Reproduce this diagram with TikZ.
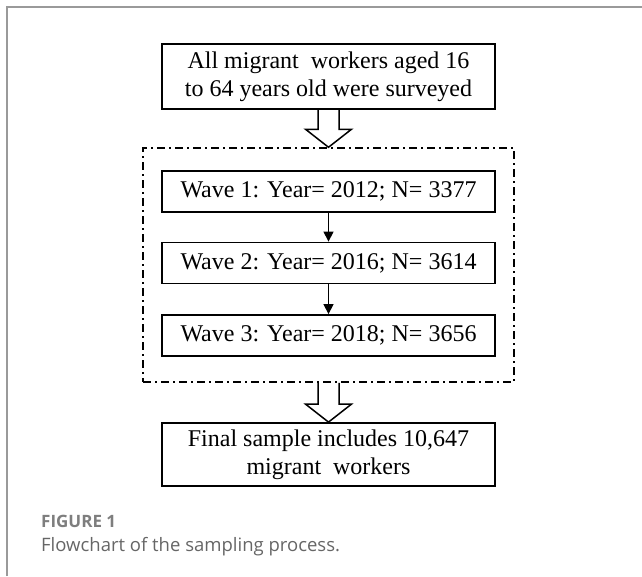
\documentclass[tikz,border=0pt]{standalone}
\usepackage{fontspec}
\setmainfont{Liberation Serif}
\newfontfamily\legendefont{Open Sans}
\usetikzlibrary{calc,arrows.meta,fit}
\definecolor{griscadre}{HTML}{9A9A9A}
\definecolor{grisfigure}{HTML}{7E7E7E}
\definecolor{grislegende}{HTML}{666666}
\newcommand{\grossefleche}[2]{%
    \draw[fleche creuse] let \p1=(#1), \p2=(#2) in
        (\x1-10.5pt,\y1) -- (\x1-10.5pt,\y2+18pt) -- (\x1-23pt,\y2+18pt) -- (\x2,\y2)
        -- (\x1+23pt,\y2+18pt) -- (\x1+10.5pt,\y2+18pt) -- (\x1+10.5pt,\y1);}

\begin{document}
\begin{tikzpicture}[x=1pt,y=-1pt]
%
% Styles
%
\tikzset{every node/.style={font=\fontsize{24}{28}\selectfont}};%
\tikzset{boite/.style={draw, line width=1.8pt, minimum width=333, inner sep=0pt, align=center}};%
\tikzset{vague/.style={boite, minimum height=41}};%
\tikzset{tirets/.style={draw, line width=1.5pt, dash pattern=on 8pt off 4pt on 2pt off 4pt}};%
\tikzset{fleche/.style={line width=1.2pt, -{Triangle[length=10pt,width=10pt]}}};%
\tikzset{fleche creuse/.style={line width=1.5pt, line join=miter}};%
\tikzset{legende/.style={font=\legendefont\fontsize{18.5}{22}\selectfont, text=grislegende, anchor=base west, inner sep=0pt}};%

%
% Macros
%
\pgfmathsetmacro{\xc}{328.5};%

\useasboundingbox (0,0) rectangle (642,576);%
\draw[griscadre, line width=2pt] (7,576) -- (7,7) -- (642,7);%

%
% Boxes
%
\node[boite, minimum height=65] (depart) at (\xc,76.5) {All migrant~ workers aged 16\\to 64 years old were surveyed};%
\node[vague] (vague1) at (\xc,191.5) {Wave 1: Year= 2012; N= 3377};%
\node[vague] (vague2) at (\xc,263) {Wave 2: Year= 2016; N= 3614};%
\node[vague] (vague3) at (\xc,335.5) {Wave 3: Year= 2018; N= 3656};%
\node[tirets, fit=(vague1)(vague3), inner xsep=18pt, inner ysep=23.6pt, yshift=-1.5pt] (vagues) {};%
\node[boite, minimum height=63] (final) at (\xc,454.5) {Final sample includes 10,647\\migrant~ workers};%

%
% Arrows
%
\grossefleche{depart.south}{vagues.north}%
\draw[fleche] (vague1) -- (vague2);%
\draw[fleche] (vague2) -- (vague3);%
\grossefleche{vagues.south}{final.north}%

%
% Caption
%
\node[legende, font=\legendefont\bfseries\fontsize{17}{20}\selectfont, text=grisfigure] (figure) at (41,527) {FIGURE 1};%
\node[legende] (titre) at (41,551) {Flowchart of the sampling process.};%
\end{tikzpicture}
\end{document}
